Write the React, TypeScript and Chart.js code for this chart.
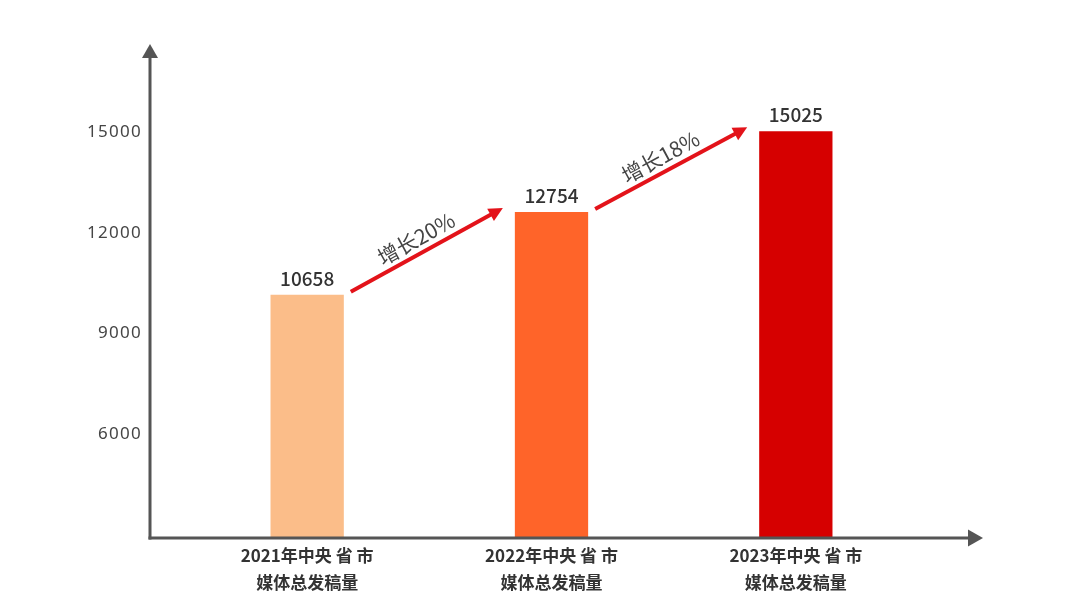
import React, { useEffect, useRef } from "react";
import { Chart, registerables } from "chart.js";

Chart.register(...registerables);

// ---- data ----
const categories: string[][] = [
  ["2021年中央 省 市", "媒体总发稿量"],
  ["2022年中央 省 市", "媒体总发稿量"],
  ["2023年中央 省 市", "媒体总发稿量"],
];
// bar heights as drawn in the picture (read against the y axis)
const barHeights = [10150, 12620, 15025];
// value labels printed above the bars
const valueLabels = ["10658", "12754", "15025"];
// growth annotations between consecutive bars
const growthLabels = ["增长20%", "增长18%"];
const yTickValues = [6000, 9000, 12000, 15000];
const yTickLabels = ["6000", "9000", "12000", "15000"];
const yMin = 2900;
const yMax = 17600;

const barColors = ["#FBBD89", "#FF6429", "#D60000"];

const overlayPlugin = {
  id: "overlay",
  afterDraw(chart: any) {
    const ctx: CanvasRenderingContext2D = chart.ctx;
    const { left, right, top, bottom } = chart.chartArea;
    const axisX = left - 35;
    const axisY = bottom;
    ctx.save();

    // axes with arrow heads
    ctx.strokeStyle = "#555555";
    ctx.fillStyle = "#555555";
    ctx.lineWidth = 3;
    ctx.beginPath();
    ctx.moveTo(axisX, axisY + 1.5);
    ctx.lineTo(axisX, top + 10);
    ctx.stroke();
    ctx.beginPath();
    ctx.moveTo(axisX, top - 1);
    ctx.lineTo(axisX - 8, top + 13);
    ctx.lineTo(axisX + 8, top + 13);
    ctx.closePath();
    ctx.fill();

    const xEnd = right + 65;
    ctx.beginPath();
    ctx.moveTo(axisX - 1.5, axisY);
    ctx.lineTo(xEnd - 10, axisY);
    ctx.stroke();
    ctx.beginPath();
    ctx.moveTo(xEnd, axisY);
    ctx.lineTo(xEnd - 15, axisY - 8.5);
    ctx.lineTo(xEnd - 15, axisY + 8.5);
    ctx.closePath();
    ctx.fill();

    // y tick labels (spaced like the reference)
    const yScale = chart.scales.y;
    ctx.fillStyle = "#454545";
    ctx.font = '400 17px "Noto Sans"';
    (ctx as any).letterSpacing = "1.3px";
    ctx.textAlign = "right";
    ctx.textBaseline = "middle";
    yTickValues.forEach((v, i) => {
      ctx.fillText(yTickLabels[i], axisX - 8, yScale.getPixelForValue(v));
    });
    (ctx as any).letterSpacing = "0px";

    // value labels
    const meta = chart.getDatasetMeta(0);
    const bars = meta.data as any[];
    ctx.fillStyle = "#333333";
    ctx.font = '500 19px "Noto Sans CJK SC"';
    ctx.textAlign = "center";
    ctx.textBaseline = "alphabetic";
    bars.forEach((bar, i) => {
      ctx.fillText(valueLabels[i], bar.x, bar.y - 9);
    });

    // growth arrows
    for (let i = 0; i < bars.length - 1; i++) {
      const a = bars[i];
      const b = bars[i + 1];
      const sx = a.x + a.width / 2 + 7;
      const sy = a.y - 3;
      const ex = b.x - b.width / 2 - 12;
      const ey = b.y - 4;
      const ang = Math.atan2(ey - sy, ex - sx);
      const ux = Math.cos(ang);
      const uy = Math.sin(ang);
      const head = 14;
      const hw = 7;
      ctx.strokeStyle = "#E3131A";
      ctx.fillStyle = "#E3131A";
      ctx.lineWidth = 4;
      ctx.beginPath();
      ctx.moveTo(sx, sy);
      ctx.lineTo(ex - ux * (head - 2), ey - uy * (head - 2));
      ctx.stroke();
      ctx.beginPath();
      ctx.moveTo(ex, ey);
      ctx.lineTo(ex - ux * head - uy * hw, ey - uy * head + ux * hw);
      ctx.lineTo(ex - ux * head + uy * hw, ey - uy * head - ux * hw);
      ctx.closePath();
      ctx.fill();

      // rotated label
      const mx = (sx + ex) / 2;
      const my = (sy + ey) / 2;
      const nx = uy; // normal pointing up
      const ny = -ux;
      const tx = mx + nx * 15 - ux * 4;
      const ty = my + ny * 15 - uy * 4;
      ctx.save();
      ctx.translate(tx, ty);
      ctx.rotate(ang);
      ctx.fillStyle = "#444444";
      ctx.font = '400 21px "Noto Sans CJK SC"';
      ctx.textAlign = "center";
      ctx.textBaseline = "middle";
      ctx.fillText(growthLabels[i], 0, 0);
      ctx.restore();
    }
    ctx.restore();
  },
};

export default function App() {
  const canvasRef = useRef<HTMLCanvasElement | null>(null);

  useEffect(() => {
    if (!canvasRef.current) return;
    const chart = new Chart(canvasRef.current, {
      type: "bar",
      data: {
        labels: categories,
        datasets: [
          {
            data: barHeights,
            backgroundColor: barColors,
            borderWidth: 0,
            barPercentage: 1,
            categoryPercentage: 0.3,
          },
        ],
      },
      options: {
        responsive: false,
        animation: false,
        layout: { padding: { top: 45, right: 162, bottom: 0, left: 0 } },
        plugins: {
          legend: { display: false },
          tooltip: { enabled: false },
        },
        scales: {
          x: {
            grid: { display: false, drawTicks: false },
            border: { display: false },
            ticks: {
              color: "#333333",
              padding: 4,
              maxRotation: 0,
              autoSkip: false,
              font: { family: '"Noto Sans CJK SC"', size: 17, weight: "bold", lineHeight: 1.6 },
            },
            afterFit: (s: any) => {
              s.height = 70;
              s.paddingLeft = 0;
              s.paddingRight = 0;
            },
          },
          y: {
            min: yMin,
            max: yMax,
            grid: { display: false, drawTicks: false },
            border: { display: false },
            ticks: { display: false },
            afterBuildTicks: (s: any) => {
              s.ticks = yTickValues.map((v) => ({ value: v }));
            },
            afterFit: (s: any) => {
              s.width = 185;
              s.paddingTop = 0;
              s.paddingBottom = 0;
            },
          },
        },
      },
      plugins: [overlayPlugin],
    } as any);
    return () => chart.destroy();
  }, []);

  return (
    <div style={{ position: "fixed", left: 0, top: 0, width: 1080, height: 608, background: "#ffffff" }}>
      <canvas ref={canvasRef} width={1080} height={608} />
    </div>
  );
}
